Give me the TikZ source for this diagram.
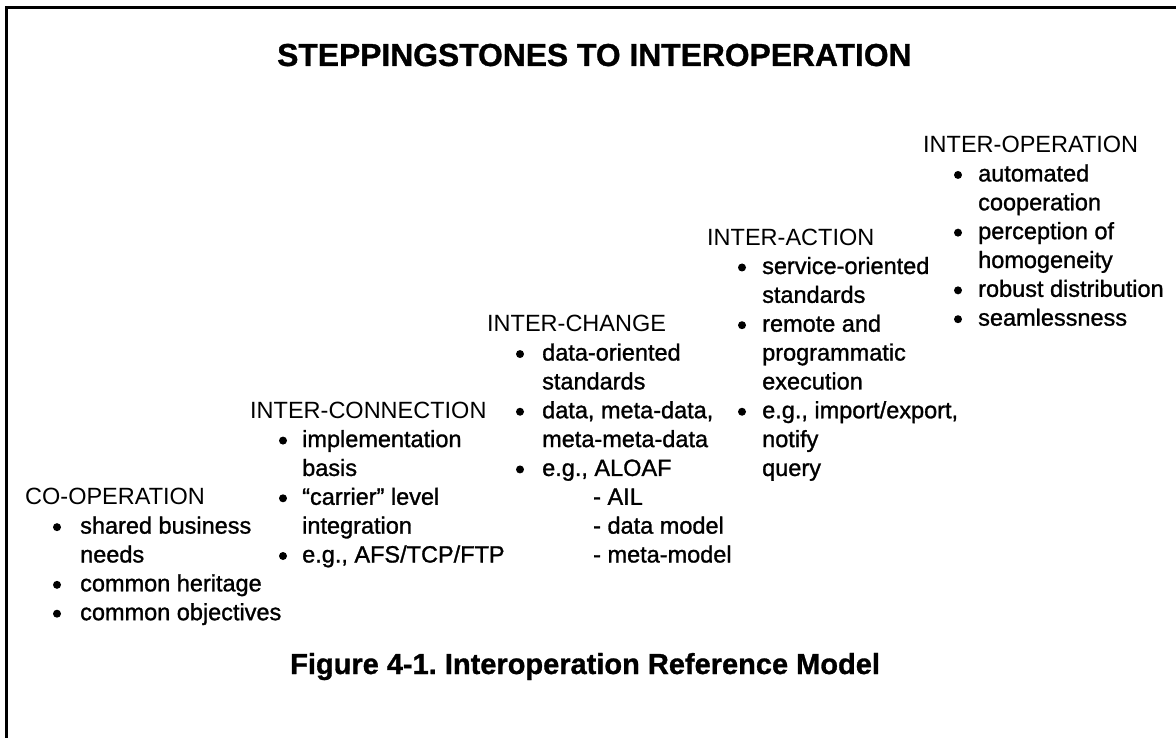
\documentclass[tikz,border=0pt]{standalone}
\usepackage{fontspec}
\setmainfont{Liberation Sans}
% heavier cut of the same face for the bullet items
\newfontfamily\itemface{Liberation Sans}[FakeBold=1.2]
\newfontfamily\heavyface{Liberation Sans Bold}[FakeBold=1.0]
\newcommand\headfont{\fontsize{23.5}{28}\selectfont}
\newcommand\itemfont{\itemface\fontsize{23.5}{28}\selectfont}
\newcommand\titlefont{\heavyface\fontsize{31.8}{36}\selectfont}
\newcommand\capfont{\heavyface\fontsize{29}{34}\selectfont\frenchspacing}
\begin{document}
\begin{tikzpicture}[x=1pt,y=-1pt,
  hd/.style={anchor=base west,inner sep=0pt,font=\headfont},
  txt/.style={anchor=base west,inner sep=0pt,font=\itemfont},
  dot/.style={circle,fill=black,inner sep=0pt,minimum size=8pt,yshift=6.5pt},
  frame/.style={line width=3pt,line cap=rect}]
\useasboundingbox (0,0) rectangle (1176,738);
% partial frame: left and top edges
\draw[frame] (6,738) -- (6,7.5) -- (1176,7.5);
% title and caption
\node[anchor=base west,inner sep=0pt,font=\titlefont] (title) at (277,66) {STEPPINGSTONES TO INTEROPERATION};
\node[anchor=base west,inner sep=0pt,font=\capfont] (caption) at (290,674) {Figure 4-1. Interoperation Reference Model};
% CO-OPERATION
\node[hd] (coop) at (25,504.8) {CO-OPERATION};
\node[dot] (coopb1) at (57,533.65) {};
\node[txt] (coop1) at (80,533.65) {shared business};
\node[txt] (coop1b) at (80,562.5) {needs};
\node[dot] (coopb2) at (57,591.35) {};
\node[txt] (coop2) at (80,591.35) {common heritage};
\node[dot] (coopb3) at (57,620.2) {};
\node[txt] (coop3) at (80,620.2) {common objectives};
% INTER-CONNECTION
\node[hd] (conn) at (250,418.25) {INTER-CONNECTION};
\node[dot] (connb1) at (283,447.1) {};
\node[txt] (conn1) at (302,447.1) {implementation};
\node[txt] (conn1b) at (302,475.95) {basis};
\node[dot] (connb2) at (283,504.8) {};
\node[txt] (conn2) at (302,504.8) {“carrier” level};
\node[txt] (conn2b) at (302,533.65) {integration};
\node[dot] (connb3) at (283,562.5) {};
\node[txt] (conn3) at (302,562.5) {e.g., AFS/TCP/FTP};
% INTER-CHANGE
\node[hd] (chg) at (487,331.7) {INTER-CHANGE};
\node[dot] (chgb1) at (520,360.55) {};
\node[txt] (chg1) at (542,360.55) {data-oriented};
\node[txt] (chg1b) at (542,389.4) {standards};
\node[dot] (chgb2) at (520,418.25) {};
\node[txt] (chg2) at (542,418.25) {data, meta-data,};
\node[txt] (chg2b) at (542,447.1) {meta-meta-data};
\node[dot] (chgb3) at (520,475.95) {};
\node[txt] (chg3) at (542,475.95) {e.g., ALOAF};
\node[txt] (chg3a) at (593,504.8) {- AIL};
\node[txt] (chg3b) at (593,533.65) {- data model};
\node[txt] (chg3c) at (593,562.5) {- meta-model};
% INTER-ACTION
\node[hd] (act) at (707,245.15) {INTER-ACTION};
\node[dot] (actb1) at (742,274) {};
\node[txt] (act1) at (762,274) {service-oriented};
\node[txt] (act1b) at (762,302.85) {standards};
\node[dot] (actb2) at (742,331.7) {};
\node[txt] (act2) at (762,331.7) {remote and};
\node[txt] (act2b) at (762,360.55) {programmatic};
\node[txt] (act2c) at (762,389.4) {execution};
\node[dot] (actb3) at (742,418.25) {};
\node[txt] (act3) at (762,418.25) {e.g., import/export,};
\node[txt] (act3b) at (762,447.1) {notify};
\node[txt] (act3c) at (762,475.95) {query};
% INTER-OPERATION
\node[hd] (iop) at (923,152.6) {INTER-OPERATION};
\node[dot] (iopb1) at (958,181.45) {};
\node[txt] (iop1) at (978,181.45) {automated};
\node[txt] (iop1b) at (978,210.3) {cooperation};
\node[dot] (iopb2) at (958,239.15) {};
\node[txt] (iop2) at (978,239.15) {perception of};
\node[txt] (iop2b) at (978,268) {homogeneity};
\node[dot] (iopb3) at (958,296.85) {};
\node[txt] (iop3) at (978,296.85) {robust distribution};
\node[dot] (iopb4) at (958,325.7) {};
\node[txt] (iop4) at (978,325.7) {seamlessness};
\end{tikzpicture}
\end{document}
